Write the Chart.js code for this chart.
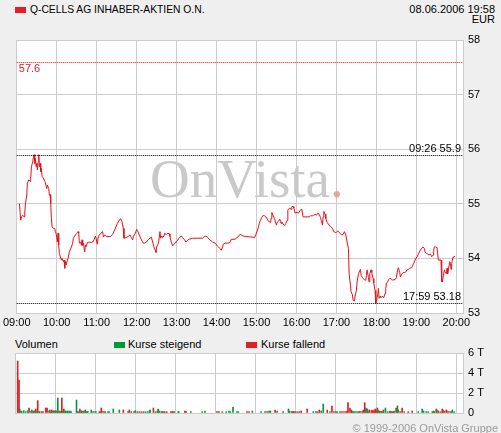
<!DOCTYPE html>
<html>
<head>
<meta charset="utf-8">
<script src="https://cdn.jsdelivr.net/npm/chart.js@4"></script>
<style>
  body { margin: 0; background: #efefef; font-family: "Liberation Sans", Arial, sans-serif; font-size: 11px; color: #000; }
  #wrap { position: relative; width: 501px; height: 433px; overflow: hidden; }
  .t { position: absolute; white-space: nowrap; line-height: 12px; }
  .sq { position: absolute; width: 11px; height: 6px; }
  canvas { position: absolute; left: 0; }
</style>
</head>
<body>
<div id="wrap">
  <div class="sq" style="left:15px;top:7px;background:#e31e24"></div>
  <div class="t" style="left:30px;top:4px;font-size:10.3px">Q-CELLS AG INHABER-AKTIEN O.N.</div>
  <div class="t" style="right:6px;top:4px;text-align:right;line-height:10px">08.06.2006 19:58<br>EUR</div>

  <canvas id="priceChart" width="501" height="335" style="top:0"></canvas>

  <div class="t" style="left:15px;top:338px">Volumen</div>
  <div class="sq" style="left:114px;top:342px;background:#00993a"></div>
  <div class="t" style="left:128px;top:338px">Kurse steigend</div>
  <div class="sq" style="left:246px;top:342px;background:#e31e24"></div>
  <div class="t" style="left:261px;top:338px">Kurse fallend</div>

  <canvas id="volChart" width="501" height="98" style="top:335px"></canvas>

  <div class="t" style="right:3px;top:422px;color:#9a9a9a">© 1999-2006 OnVista Gruppe</div>
</div>

<script>
// axis ticks
const hourLabels = ['09:00', '10:00', '11:00', '12:00', '13:00', '14:00', '15:00', '16:00', '17:00', '18:00', '19:00', '20:00'];
const priceTicks = [53, 54, 55, 56, 57, 58];
const volTicks = [0, 2, 4, 6];

// intraday price (EUR)
const priceTimes = [
  '09:04', '09:06', '09:07', '09:09', '09:11', '09:12', '09:13', '09:15', '09:16', '09:18', '09:20', '09:21', '09:22', '09:24', '09:25', '09:26',
  '09:27', '09:28', '09:29', '09:30', '09:31', '09:32', '09:33', '09:34', '09:35', '09:36', '09:37', '09:38', '09:40', '09:42', '09:43', '09:45',
  '09:46', '09:48', '09:49', '09:50', '09:51', '09:52', '09:53', '09:55', '09:57', '09:58', '09:59', '10:01', '10:02', '10:03', '10:04', '10:06',
  '10:07', '10:08', '10:10', '10:11', '10:12', '10:13', '10:14', '10:16', '10:17', '10:19', '10:22', '10:24', '10:25', '10:27', '10:30', '10:32',
  '10:33', '10:34', '10:36', '10:37', '10:38', '10:39', '10:40', '10:42', '10:43', '10:44', '10:46', '10:47', '10:49', '10:52', '10:54', '10:56',
  '10:58', '10:59', '11:01', '11:02', '11:03', '11:06', '11:09', '11:10', '11:12', '11:15', '11:21', '11:24', '11:29', '11:31', '11:35', '11:36',
  '11:38', '11:40', '11:41', '11:44', '11:47', '11:50', '11:52', '11:54', '11:55', '11:58', '12:00', '12:02', '12:04', '12:06', '12:08', '12:10',
  '12:12', '12:15', '12:17', '12:20', '12:22', '12:24', '12:26', '12:28', '12:29', '12:30', '12:32', '12:33', '12:35', '12:36', '12:38', '12:39',
  '12:41', '12:42', '12:44', '12:47', '12:49', '12:50', '12:52', '12:54', '12:56', '12:58', '13:00', '13:02', '13:04', '13:07', '13:09', '13:12',
  '13:14', '13:17', '13:19', '13:24', '13:39', '13:42', '13:44', '13:47', '13:49', '13:54', '13:58', '14:01', '14:03', '14:05', '14:07', '14:09',
  '14:10', '14:13', '14:17', '14:20', '14:22', '14:28', '14:30', '14:33', '14:35', '14:37', '14:40', '14:44', '14:54', '14:57', '14:59', '15:01',
  '15:03', '15:04', '15:06', '15:08', '15:10', '15:12', '15:14', '15:17', '15:19', '15:21', '15:22', '15:23', '15:25', '15:27', '15:29', '15:30',
  '15:31', '15:33', '15:35', '15:36', '15:37', '15:38', '15:41', '15:42', '15:44', '15:46', '15:47', '15:50', '15:52', '15:53', '15:55', '15:56',
  '15:58', '15:59', '16:01', '16:03', '16:05', '16:07', '16:08', '16:10', '16:19', '16:21', '16:24', '16:26', '16:28', '16:30', '16:32', '16:34',
  '16:36', '16:37', '16:39', '16:40', '16:41', '16:43', '16:44', '16:46', '16:49', '16:51', '16:54', '16:56', '16:59', '17:00', '17:02', '17:04',
  '17:06', '17:08', '17:10', '17:12', '17:14', '17:16', '17:18', '17:19', '17:21', '17:22', '17:24', '17:25', '17:27', '17:28', '17:30', '17:31',
  '17:33', '17:34', '17:36', '17:37', '17:39', '17:40', '17:42', '17:44', '17:45', '17:46', '17:48', '17:49', '17:50', '17:52', '17:53', '17:55',
  '17:56', '17:58', '17:59', '18:02', '18:03', '18:04', '18:06', '18:07', '18:09', '18:11', '18:13', '18:14', '18:15', '18:17', '18:18', '18:20',
  '18:22', '18:24', '18:26', '18:28', '18:30', '18:32', '18:33', '18:35', '18:36', '18:38', '18:40', '18:42', '18:44', '18:46', '18:48', '18:50',
  '18:53', '18:56', '18:58', '19:01', '19:03', '19:06', '19:08', '19:10', '19:12', '19:13', '19:15', '19:17', '19:19', '19:21', '19:23', '19:25',
  '19:26', '19:27', '19:29', '19:31', '19:33', '19:37', '19:38', '19:39', '19:41', '19:42', '19:43', '19:45', '19:46', '19:47', '19:48', '19:50',
  '19:51', '19:52', '19:53', '19:55', '19:56', '19:58'
];
const prices = [
  55.00, 54.70, 54.76, 54.79, 54.76, 54.83, 55.00, 55.16, 55.38, 55.44, 55.41, 55.47, 55.68, 55.77, 55.86, 55.90,
  55.74, 55.83, 55.68, 55.74, 55.62, 55.77, 55.90, 55.68, 55.74, 55.59, 55.65, 55.50, 55.47, 55.41, 55.38, 55.28,
  55.34, 55.28, 55.16, 55.17, 55.01, 54.73, 54.58, 54.55, 54.55, 54.49, 54.46, 54.30, 54.46, 54.24, 54.09, 54.00,
  53.97, 54.00, 53.94, 53.97, 53.82, 53.94, 53.88, 53.97, 54.00, 54.12, 54.21, 54.28, 54.37, 54.41, 54.46, 54.49,
  54.46, 54.28, 54.30, 54.24, 54.34, 54.24, 54.28, 54.12, 54.24, 54.21, 54.29, 54.29, 54.30, 54.29, 54.30, 54.34,
  54.41, 54.37, 54.26, 54.38, 54.41, 54.46, 54.49, 54.39, 54.43, 54.40, 54.40, 54.44, 54.58, 54.64, 54.72, 54.73,
  54.67, 54.55, 54.37, 54.38, 54.40, 54.43, 54.38, 54.34, 54.40, 54.46, 54.53, 54.49, 54.43, 54.37, 54.32, 54.28,
  54.28, 54.30, 54.34, 54.37, 54.39, 54.30, 54.21, 54.15, 54.11, 54.21, 54.26, 54.30, 54.49, 54.37, 54.41, 54.38,
  54.41, 54.46, 54.44, 54.46, 54.45, 54.40, 54.30, 54.23, 54.26, 54.28, 54.32, 54.34, 54.38, 54.41, 54.38, 54.34,
  54.30, 54.34, 54.35, 54.37, 54.37, 54.40, 54.41, 54.38, 54.35, 54.30, 54.28, 54.23, 54.21, 54.18, 54.15, 54.21,
  54.26, 54.28, 54.28, 54.29, 54.35, 54.35, 54.38, 54.40, 54.44, 54.43, 54.41, 54.40, 54.39, 54.38, 54.44, 54.50,
  54.58, 54.64, 54.70, 54.75, 54.79, 54.78, 54.76, 54.70, 54.67, 54.66, 54.73, 54.84, 54.78, 54.73, 54.64, 54.61,
  54.66, 54.68, 54.72, 54.68, 54.64, 54.67, 54.61, 54.60, 54.64, 54.70, 54.89, 54.92, 54.90, 54.95, 54.95, 54.92,
  54.83, 54.84, 54.84, 54.83, 54.87, 54.90, 54.89, 54.76, 54.76, 54.78, 54.78, 54.79, 54.81, 54.79, 54.83, 54.81,
  54.75, 54.70, 54.61, 54.76, 54.86, 54.81, 54.73, 54.66, 54.61, 54.58, 54.55, 54.49, 54.47, 54.48, 54.50, 54.48,
  54.45, 54.43, 54.44, 54.49, 54.43, 54.30, 54.18, 53.72, 53.51, 53.39, 53.33, 53.23, 53.22, 53.31, 53.42, 53.57,
  53.71, 53.75, 53.80, 53.69, 53.65, 53.63, 53.61, 53.60, 53.69, 53.79, 53.65, 53.57, 53.72, 53.79, 53.74, 53.63,
  53.55, 53.41, 53.18, 53.33, 53.45, 53.27, 53.31, 53.28, 53.31, 53.28, 53.36, 53.45, 53.55, 53.57, 53.61, 53.63,
  53.63, 53.60, 53.61, 53.61, 53.65, 53.80, 53.83, 53.74, 53.66, 53.71, 53.74, 53.74, 53.75, 53.79, 53.80, 53.82,
  53.83, 53.91, 53.97, 54.03, 54.08, 54.15, 54.19, 54.21, 54.18, 54.12, 54.09, 54.08, 54.06, 54.08, 54.03, 54.06,
  54.15, 54.21, 54.21, 54.20, 53.97, 53.97, 53.57, 53.57, 53.72, 53.79, 53.75, 53.72, 53.82, 53.72, 53.79, 53.94,
  53.91, 53.80, 53.91, 54.02, 54.03, 54.04
];

// reference lines: previous close, day high, day low
const refValues = [57.6, 55.9, 53.18];
const refLabels = ['57.6', '09:26 55.9', '17:59 53.18'];

// volume in thousand shares (T)
const riseTimes = [
  '09:07', '09:10', '09:13', '09:16', '09:19', '09:24', '09:25', '09:28', '09:33', '09:36', '09:37', '09:52', '09:57', '10:00', '10:03', '10:04',
  '10:07', '10:12', '10:15', '10:16', '10:18', '10:19', '10:21', '10:22', '10:24', '10:32', '10:39', '10:43', '10:45', '10:48', '10:49', '10:54',
  '10:55', '10:58', '11:01', '11:07', '11:13', '11:19', '11:21', '11:27', '11:36', '11:49', '11:58', '12:00', '12:15', '12:18', '12:21', '12:22',
  '12:30', '12:34', '12:36', '12:40', '12:58', '13:04', '13:05', '13:23', '13:40', '13:44', '14:10', '14:16', '14:20', '14:22', '14:26', '14:32',
  '14:34', '14:55', '15:08', '15:14', '15:20', '15:22', '15:32', '15:49', '15:50', '15:55', '16:02', '16:26', '16:30', '16:38', '16:41', '16:51',
  '17:00', '17:02', '17:09', '17:24', '17:26', '17:27', '17:30', '17:35', '17:45', '17:47', '18:03', '18:06', '18:08', '18:09', '18:14', '18:17',
  '18:23', '18:24', '18:26', '18:27', '18:32', '18:33', '18:42', '19:03', '19:09', '19:11', '19:15', '19:18', '19:24', '19:26', '19:31', '19:42',
  '19:52', '19:54', '19:57'
];
const riseVol = [
  0.40, 0.13, 0.23, 0.13, 0.23, 0.13, 0.30, 0.13, 0.13, 0.13, 0.13, 0.30, 0.13, 0.20, 0.20, 1.50,
  0.13, 0.20, 0.20, 0.20, 0.13, 0.20, 0.13, 0.20, 0.13, 1.30, 0.23, 0.13, 0.30, 0.13, 0.13, 0.30,
  0.13, 0.13, 0.13, 0.13, 0.13, 0.13, 0.13, 0.40, 0.30, 0.13, 0.13, 0.23, 0.13, 0.13, 0.23, 0.30,
  0.13, 0.40, 0.20, 0.13, 0.13, 0.13, 0.13, 0.13, 0.13, 0.20, 0.13, 0.13, 0.20, 0.13, 0.57, 0.13,
  0.13, 0.20, 0.13, 0.13, 0.20, 0.20, 0.20, 0.40, 0.20, 0.13, 0.13, 0.13, 0.13, 0.20, 0.90, 0.13,
  0.13, 0.13, 0.13, 0.20, 0.13, 0.13, 0.13, 0.13, 0.50, 0.40, 0.30, 0.13, 0.13, 0.13, 0.50, 0.13,
  0.13, 0.13, 0.13, 0.20, 0.70, 0.30, 0.13, 0.13, 0.40, 0.20, 0.13, 0.13, 0.13, 0.20, 0.30, 0.20,
  0.13, 0.30, 0.13
];
const fallTimes = [
  '09:04', '09:06', '09:09', '09:21', '09:27', '09:30', '09:31', '09:34', '09:40', '09:42', '09:46', '09:48', '09:51', '09:54', '09:55', '09:58',
  '10:01', '10:06', '10:09', '10:10', '10:13', '10:33', '10:35', '10:37', '10:40', '10:42', '10:46', '11:06', '11:09', '11:10', '11:15', '11:42',
  '11:51', '11:54', '12:03', '12:06', '12:09', '12:12', '12:27', '12:33', '12:39', '12:42', '12:44', '12:47', '12:53', '12:55', '12:56', '13:14',
  '13:16', '14:02', '14:05', '14:47', '14:50', '15:17', '15:29', '15:41', '15:53', '15:56', '15:57', '15:59', '16:05', '16:08', '16:17', '16:32',
  '16:35', '16:47', '16:54', '16:57', '17:06', '17:12', '17:15', '17:17', '17:18', '17:21', '17:23', '17:33', '17:36', '17:39', '17:41', '17:43',
  '17:48', '17:50', '17:53', '17:54', '17:56', '17:57', '17:59', '18:00', '18:02', '18:05', '18:11', '18:20', '18:21', '18:30', '18:36', '18:39',
  '18:48', '18:54', '19:27', '19:30', '19:33', '19:36', '19:39', '19:40', '19:45', '19:46', '19:49'
];
const fallVol = [
  5.20, 3.30, 0.20, 0.50, 0.20, 0.23, 0.40, 1.23, 0.13, 0.13, 0.50, 0.50, 0.20, 0.20, 0.30, 0.23,
  0.23, 0.20, 0.20, 1.50, 0.40, 0.13, 0.13, 0.40, 0.13, 0.20, 0.13, 0.13, 0.50, 0.20, 0.13, 0.30,
  0.30, 0.13, 0.13, 0.13, 0.13, 0.13, 0.50, 0.20, 0.13, 0.13, 0.13, 0.13, 0.13, 0.13, 0.13, 0.20,
  0.13, 0.13, 0.13, 0.13, 0.13, 0.13, 0.30, 0.13, 0.13, 0.13, 0.13, 0.13, 0.13, 0.20, 0.40, 0.13,
  0.30, 0.30, 0.70, 0.13, 0.13, 0.13, 0.13, 0.20, 1.03, 0.50, 0.30, 0.13, 0.13, 0.13, 0.30, 1.03,
  0.13, 0.30, 0.20, 0.30, 0.13, 0.30, 0.40, 0.20, 0.50, 0.20, 0.30, 0.13, 0.20, 0.50, 0.13, 0.50,
  0.13, 0.20, 0.13, 0.40, 0.20, 0.13, 0.40, 0.30, 0.30, 0.20, 0.13
];

const RED = '#e31e24';
const GREEN = '#00993a';
const GRID = '#cccccc';
const FONT = { family: '"Liberation Sans", Arial, sans-serif', size: 11 };
const X_MAX = 670; // 09:00 .. ~20:10

// minutes since 09:00
function toMin(t) {
  const [h, m] = t.split(':').map(Number);
  return (h - 9) * 60 + m;
}
function toLabel(v) {
  const h = 9 + Math.floor(v / 60);
  const m = v % 60;
  return String(h).padStart(2, '0') + ':' + String(m).padStart(2, '0');
}
const points = (times, vals) => times.map((t, i) => ({ x: toMin(t), y: vals[i] }));

// white plot area
const plotBg = {
  id: 'plotBg',
  beforeDraw(chart) {
    const { ctx, chartArea: a } = chart;
    ctx.save();
    ctx.fillStyle = '#ffffff';
    ctx.fillRect(a.left, a.top, a.right - a.left, a.bottom - a.top);
    ctx.restore();
  }
};

// OnVista watermark behind the line
const watermark = {
  id: 'watermark',
  beforeDatasetsDraw(chart) {
    const ctx = chart.ctx;
    ctx.save();
    ctx.font = '55px "Liberation Serif", "DejaVu Serif", serif';
    ctx.textBaseline = 'alphabetic';
    ctx.fillStyle = '#c9c9c9';
    ctx.fillText('OnVista', 150, 197);
    const w = ctx.measureText('OnVista').width;
    ctx.fillStyle = '#eaa3a3';
    ctx.fillText('.', 150 + w, 197);
    ctx.restore();
  }
};

// dotted reference lines with their labels
const refLines = {
  id: 'refLines',
  afterDatasetsDraw(chart) {
    const { ctx, chartArea: a, scales } = chart;
    ctx.save();
    ctx.font = '11px "Liberation Sans", Arial, sans-serif';
    ctx.textBaseline = 'middle';
    refValues.forEach((v, i) => {
      const y = Math.round(scales.y.getPixelForValue(v)) + 0.5;
      const col = i === 0 ? RED : '#000000';
      ctx.strokeStyle = col;
      ctx.lineWidth = 1;
      ctx.setLineDash([1, 1]);
      ctx.beginPath();
      ctx.moveTo(a.left, y);
      ctx.lineTo(a.right, y);
      ctx.stroke();
      ctx.fillStyle = col;
      if (i === 0) {
        ctx.textAlign = 'left';
        ctx.fillText(refLabels[i], a.left + 2, y + 6);
      } else {
        ctx.textAlign = 'right';
        ctx.fillText(refLabels[i], a.right - 2, y - 7);
      }
    });
    ctx.restore();
  }
};

function xScale(height, showLabels) {
  return {
    type: 'linear',
    min: 0,
    max: X_MAX,
    offset: false,
    afterBuildTicks: s => { s.ticks = hourLabels.map(l => ({ value: toMin(l) })); },
    afterFit: s => { s.height = height; },
    grid: { color: GRID, drawTicks: false, offset: false },
    border: { color: GRID },
    ticks: { display: showLabels, color: '#000', font: FONT, padding: 3, maxRotation: 0, callback: v => toLabel(v) }
  };
}

function yScale(min, max, tickVals, fmt) {
  return {
    position: 'right',
    min: min,
    max: max,
    afterBuildTicks: s => { s.ticks = tickVals.map(v => ({ value: v })); },
    afterFit: s => { s.width = 38; },
    grid: { color: GRID, drawTicks: false },
    border: { color: GRID },
    ticks: { color: '#000', font: FONT, padding: 5, callback: fmt }
  };
}

new Chart(document.getElementById('priceChart'), {
  type: 'line',
  data: {
    datasets: [{
      data: points(priceTimes, prices),
      borderColor: '#e8101a',
      borderWidth: 1,
      pointRadius: 0,
      tension: 0
    }]
  },
  options: {
    responsive: false,
    animation: false,
    devicePixelRatio: 1,
    layout: { padding: { left: 15, top: 40, right: 0, bottom: 0 } },
    plugins: { legend: { display: false }, tooltip: { enabled: false } },
    scales: {
      x: xScale(22, true),
      y: yScale(53, 58, priceTicks, v => String(v))
    }
  },
  plugins: [plotBg, watermark, refLines]
});

new Chart(document.getElementById('volChart'), {
  type: 'bar',
  data: {
    datasets: [
      { label: 'Kurse steigend', data: points(riseTimes, riseVol), backgroundColor: GREEN, barThickness: 1, grouped: false },
      { label: 'Kurse fallend', data: points(fallTimes, fallVol), backgroundColor: RED, barThickness: 1, grouped: false }
    ]
  },
  options: {
    responsive: false,
    animation: false,
    devicePixelRatio: 1,
    layout: { padding: { left: 15, top: 18, right: 0, bottom: 0 } },
    plugins: { legend: { display: false }, tooltip: { enabled: false } },
    scales: {
      x: xScale(20, false),
      y: yScale(0, 6, volTicks, v => (v === 0 ? '0' : v + ' T'))
    }
  },
  plugins: [plotBg]
});
</script>
</body>
</html>
